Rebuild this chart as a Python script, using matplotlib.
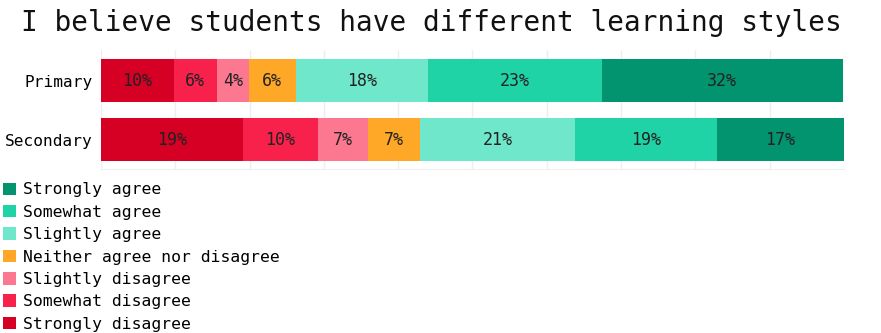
import matplotlib.pyplot as plt
from matplotlib.patches import Patch

# -------- DATA --------
GROUPS = ["Primary", "Secondary"]
RESPONSES = [
    "Strongly disagree",
    "Somewhat disagree",
    "Slightly disagree",
    "Neither agree nor disagree",
    "Slightly agree",
    "Somewhat agree",
    "Strongly agree",
]
PRIMARY = [9.8, 5.8, 4.3, 6.3, 17.8, 23.4, 32.4]
SECONDARY = [19.1, 10.1, 6.7, 7.1, 20.8, 19.1, 17.1]
COLORS = ["#d50024", "#f8214b", "#fb7890", "#ffa726", "#6ee7cb", "#1fd3a7", "#02936f"]
TITLE = "I believe students have different learning styles"
# ----------------------

FONT = "DejaVu Sans Mono"
plt.rcParams["font.family"] = FONT

fig = plt.figure(figsize=(8.81, 3.33), dpi=100)
ax = fig.add_axes([0.1146, 0.4925, 0.8434, 0.3575])

values = [PRIMARY, SECONDARY]
for gi, row in enumerate(values):
    left = 0
    for ri, v in enumerate(row):
        ax.barh(gi, v, left=left, height=0.73, color=COLORS[ri], linewidth=0, zorder=2)
        ax.text(left + v / 2, gi, f"{v:.0f}%", ha="center", va="center",
                fontsize=12, color="#222222", zorder=3)
        left += v

ax.set_xlim(0, 100)
ax.set_ylim(1.5, -0.52)
ax.set_xticks(range(0, 101, 10))
ax.set_xticklabels([])
ax.set_yticks(range(len(GROUPS)))
ax.set_yticklabels(GROUPS, fontsize=11.6)
ax.tick_params(length=0, pad=6)
ax.grid(axis="x", color="#eeeeee", linewidth=1, zorder=0)
for s in ["top", "right", "left"]:
    ax.spines[s].set_visible(False)
ax.spines["bottom"].set_color("#eeeeee")

fig.text(0.49, 0.93, TITLE, ha="center", va="center", fontsize=20, color="#111111")

handles = [Patch(facecolor=c, edgecolor="none") for c in COLORS][::-1]
labels = RESPONSES[::-1]
fig.legend(handles, labels, loc="upper left", bbox_to_anchor=(0.003, 0.452),
           frameon=False, fontsize=11.8, handlelength=0.8, handleheight=0.8,
           handletextpad=0.45, labelspacing=0.45, borderaxespad=0, borderpad=0)

fig.savefig("out.png", dpi=100)
